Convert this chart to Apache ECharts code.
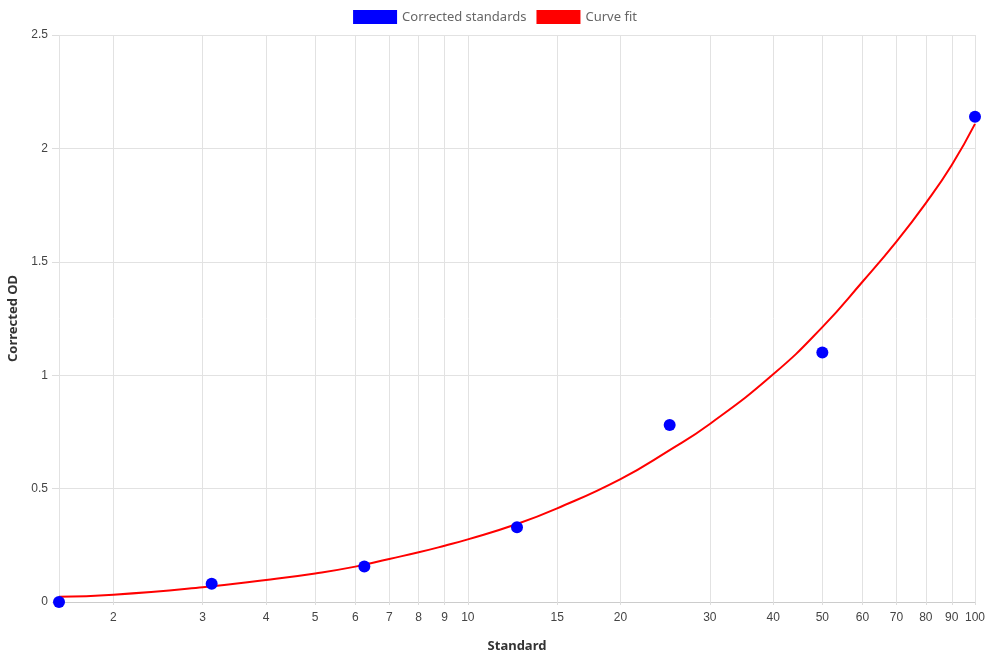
<!DOCTYPE html>
<html>
<head>
<meta charset="utf-8">
<script src="https://cdn.jsdelivr.net/npm/echarts@6/dist/echarts.min.js"></script>
<style>
  html, body { margin: 0; padding: 0; background: #fff; }
  #chart { width: 990px; height: 660px; }
</style>
</head>
<body>
<div id="chart"></div>
<script>
// measured standards
const standards = [1.5625, 3.125, 6.25, 12.5, 25, 50, 100];
const correctedOD = [0, 0.08, 0.157, 0.33, 0.78, 1.1, 2.14];

// curve fit at these concentrations
const fitX = [1.5625, 2, 3, 4, 5, 6, 7, 8, 9, 10, 12.5, 15, 20, 25, 30, 40, 50, 60, 70, 80, 90, 100];
const fitY = [0.023, 0.032, 0.065, 0.097, 0.126, 0.156, 0.19, 0.219, 0.248, 0.276, 0.344, 0.413, 0.542, 0.67, 0.785, 1.004, 1.212, 1.412, 1.589, 1.759, 1.927, 2.108];

// log axis ticks
const xTicks = [2, 3, 4, 5, 6, 7, 8, 9, 10, 15, 20, 30, 40, 50, 60, 70, 80, 90, 100];
const yTicks = [0, 0.5, 1, 1.5, 2, 2.5];

const myChart = echarts.init(document.getElementById("chart"));

const option = {
  animation: false,
  legend: {
    top: 10,
    padding: 0,
    left: "center",
    itemWidth: 44,
    itemHeight: 14,
    itemGap: 10,
    icon: "rect",
    textStyle: { fontSize: 13, color: "#666", fontFamily: "'Noto Sans', sans-serif" },
    data: ["Corrected standards", "Curve fit"]
  },
  grid: {
    left: 59,
    right: 15,
    top: 35,
    bottom: 58,
    outerBoundsMode: "none"
  },
  xAxis: {
    type: "log",
    logBase: 10,
    min: 1.5625,
    max: 100,
    name: "Standard",
    nameLocation: "middle",
    nameGap: 38,
    nameTextStyle: { fontSize: 13, fontWeight: "bold", color: "#333", fontFamily: "'Noto Sans', sans-serif" },
    axisLine: { show: true, lineStyle: { color: "#ccc" } },
    axisTick: { show: true, length: 3, customValues: xTicks.concat([1.5625]), lineStyle: { color: "#ddd" } },
    axisLabel: {
      customValues: xTicks,
      color: "#444",
      fontSize: 12,
      fontFamily: "'Liberation Sans', Arial, sans-serif",
      margin: 10,
      formatter: v => String(Math.round(v))
    },
    splitLine: { show: true, lineStyle: { color: "#e2e2e2" } }
  },
  yAxis: {
    type: "value",
    min: 0,
    max: 2.5,
    interval: 0.5,
    name: "Corrected OD",
    nameLocation: "middle",
    nameGap: 39,
    nameTextStyle: { fontSize: 13, fontWeight: "bold", color: "#333", fontFamily: "'Noto Sans', sans-serif" },
    axisLine: { show: false },
    axisTick: { show: true, length: 7, lineStyle: { color: "#ddd" } },
    axisLabel: {
      color: "#444",
      fontSize: 12,
      fontFamily: "'Liberation Sans', Arial, sans-serif",
      margin: 11,
      formatter: v => yTicks.indexOf(v) >= 0 ? String(v) : ""
    },
    splitLine: { show: true, lineStyle: { color: "#e2e2e2" } }
  },
  series: [
    {
      name: "Corrected standards",
      type: "scatter",
      symbolSize: 12,
      itemStyle: { color: "#0000ff", opacity: 1 },
      data: standards.map((x, i) => [x, correctedOD[i]]),
      z: 3
    },
    {
      name: "Curve fit",
      type: "line",
      smooth: 0.5,
      showSymbol: false,
      lineStyle: { color: "#ff0000", width: 2 },
      itemStyle: { color: "#ff0000" },
      data: fitX.map((x, i) => [x, fitY[i]]),
      z: 2
    }
  ]
};

myChart.setOption(option);
</script>
</body>
</html>
